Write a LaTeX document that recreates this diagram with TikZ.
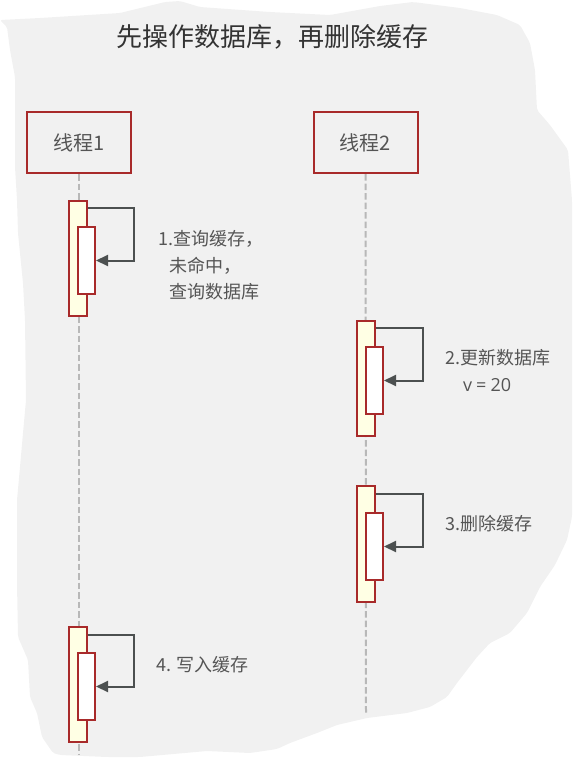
\documentclass[tikz,border=0pt]{standalone}
\usepackage{fontspec}
\setmainfont{Noto Sans CJK SC}
\newfontfamily\latinfont{Open Sans}
\usetikzlibrary{arrows.meta,calc}
\definecolor{bgpaper}{HTML}{F1F1F1}
\definecolor{bord}{HTML}{A82A2A}
\definecolor{actfill}{HTML}{FFFFE4}
\definecolor{arrcol}{HTML}{4C5050}
\definecolor{txtcol}{HTML}{555555}
\definecolor{titlecol}{HTML}{333333}
\definecolor{lifecol}{HTML}{B8B8B8}
\tikzset{
  threadbox/.style={draw=bord, line width=2pt, fill=bgpaper, minimum width=104pt, minimum height=61pt, inner sep=0pt, text=txtcol, font=\fontsize{20}{24}\selectfont},
  actouter/.style={draw=bord, line width=2pt, fill=actfill, minimum width=18pt, inner sep=0pt},
  actinner/.style={draw=bord, line width=2pt, fill=white, minimum width=17pt, minimum height=67pt, inner sep=0pt},
  lifeline/.style={draw=lifecol, line width=2pt, dash pattern=on 6.5pt off 3pt},
  selfmsg/.style={draw=arrcol, line width=2pt, -{Triangle[length=12pt,width=11pt]}},
  lbl/.style={anchor=west, inner sep=0pt, text=txtcol, font=\fontsize{18}{22}\selectfont},
}
\begin{document}
\begin{tikzpicture}[x=1pt,y=-1pt]
\useasboundingbox (0,0) rectangle (579,769);
% torn paper background
\fill[bgpaper, rounded corners=2pt] (0,20) -- (40,18) -- (120,13) -- (165,2) -- (180,1) -- (200,7) -- (270,12) -- (330,15) -- (380,6) -- (413,2) -- (460,8) -- (497,15) -- (520,25) -- (530,43) -- (535,70) -- (537,110) -- (550,125) -- (568,150) -- (572,200) -- (572,300) -- (572,517) -- (567,540) -- (555,565) -- (540,587) -- (527,613) -- (510,633) -- (490,643) -- (477,657) -- (457,683) -- (447,697) -- (430,707) -- (407,713) -- (367,718) -- (337,725) -- (317,733) -- (290,743) -- (277,749) -- (250,753) -- (207,751) -- (140,757) -- (107,757) -- (60,755) -- (53,753) -- (42,737) -- (37,713) -- (30,697) -- (28,660) -- (18,637) -- (17,583) -- (17,500) -- (20,467) -- (23,433) -- (26,400) -- (25,320) -- (23,283) -- (18,233) -- (17,200) -- (15,167) -- (15,77) -- (10,50) -- (7,27) -- cycle;

% title
\node[text=titlecol, font=\fontsize{26}{30}\selectfont, inner sep=0pt] (title) at (272,37) {先操作数据库，再删除缓存};

% threads
\node[threadbox] (t1) at (79,142.5) {线程1};
\node[threadbox] (t2) at (365.5,142.5) {线程2};
\coordinate (e1) at (79,755);
\coordinate (e2) at (366,713);
\draw[lifeline] (t1.south) -- (e1);
\draw[lifeline] (t2.south) -- (e2);

% activation 1
\node[actouter, minimum height=115pt] (a1o) at (78,258.5) {};
\node[actinner] (a1i) at (86.5,260.5) {};
\draw[selfmsg] ($(a1o.north east)+(0,8)$) -- ++(46,0) |- (a1i.east);
\node[lbl] (l1a) at (158,239) {1.查询缓存，};
\node[lbl] (l1b) at (169,266) {未命中，};
\node[lbl] (l1c) at (169,292) {查询数据库};

% activation 2
\node[actouter, minimum height=115pt] (a2o) at (365.5,378.5) {};
\node[actinner] (a2i) at (374.5,380.5) {};
\draw[selfmsg] ($(a2o.north east)+(0,8)$) -- ++(47,0) |- (a2i.east);
\node[lbl] (l2a) at (445,358) {2.更新数据库};
\node[lbl] (l2b) at (463,385) {{\latinfont v\hspace{4pt}=\hspace{4pt}20}};

% activation 3
\node[actouter, minimum height=116pt] (a3o) at (365.5,544) {};
\node[actinner] (a3i) at (374.5,546.5) {};
\draw[selfmsg] ($(a3o.north east)+(0,9)$) -- ++(47,0) |- (a3i.east);
\node[lbl] (l3) at (445,524) {3.删除缓存};

% activation 4
\node[actouter, minimum height=115pt] (a4o) at (78,684.5) {};
\node[actinner] (a4i) at (86.5,686.5) {};
\draw[selfmsg] ($(a4o.north east)+(0,9)$) -- ++(46,0) |- (a4i.east);
\node[lbl] (l4) at (156,665) {4. 写入缓存};
\end{tikzpicture}
\end{document}
